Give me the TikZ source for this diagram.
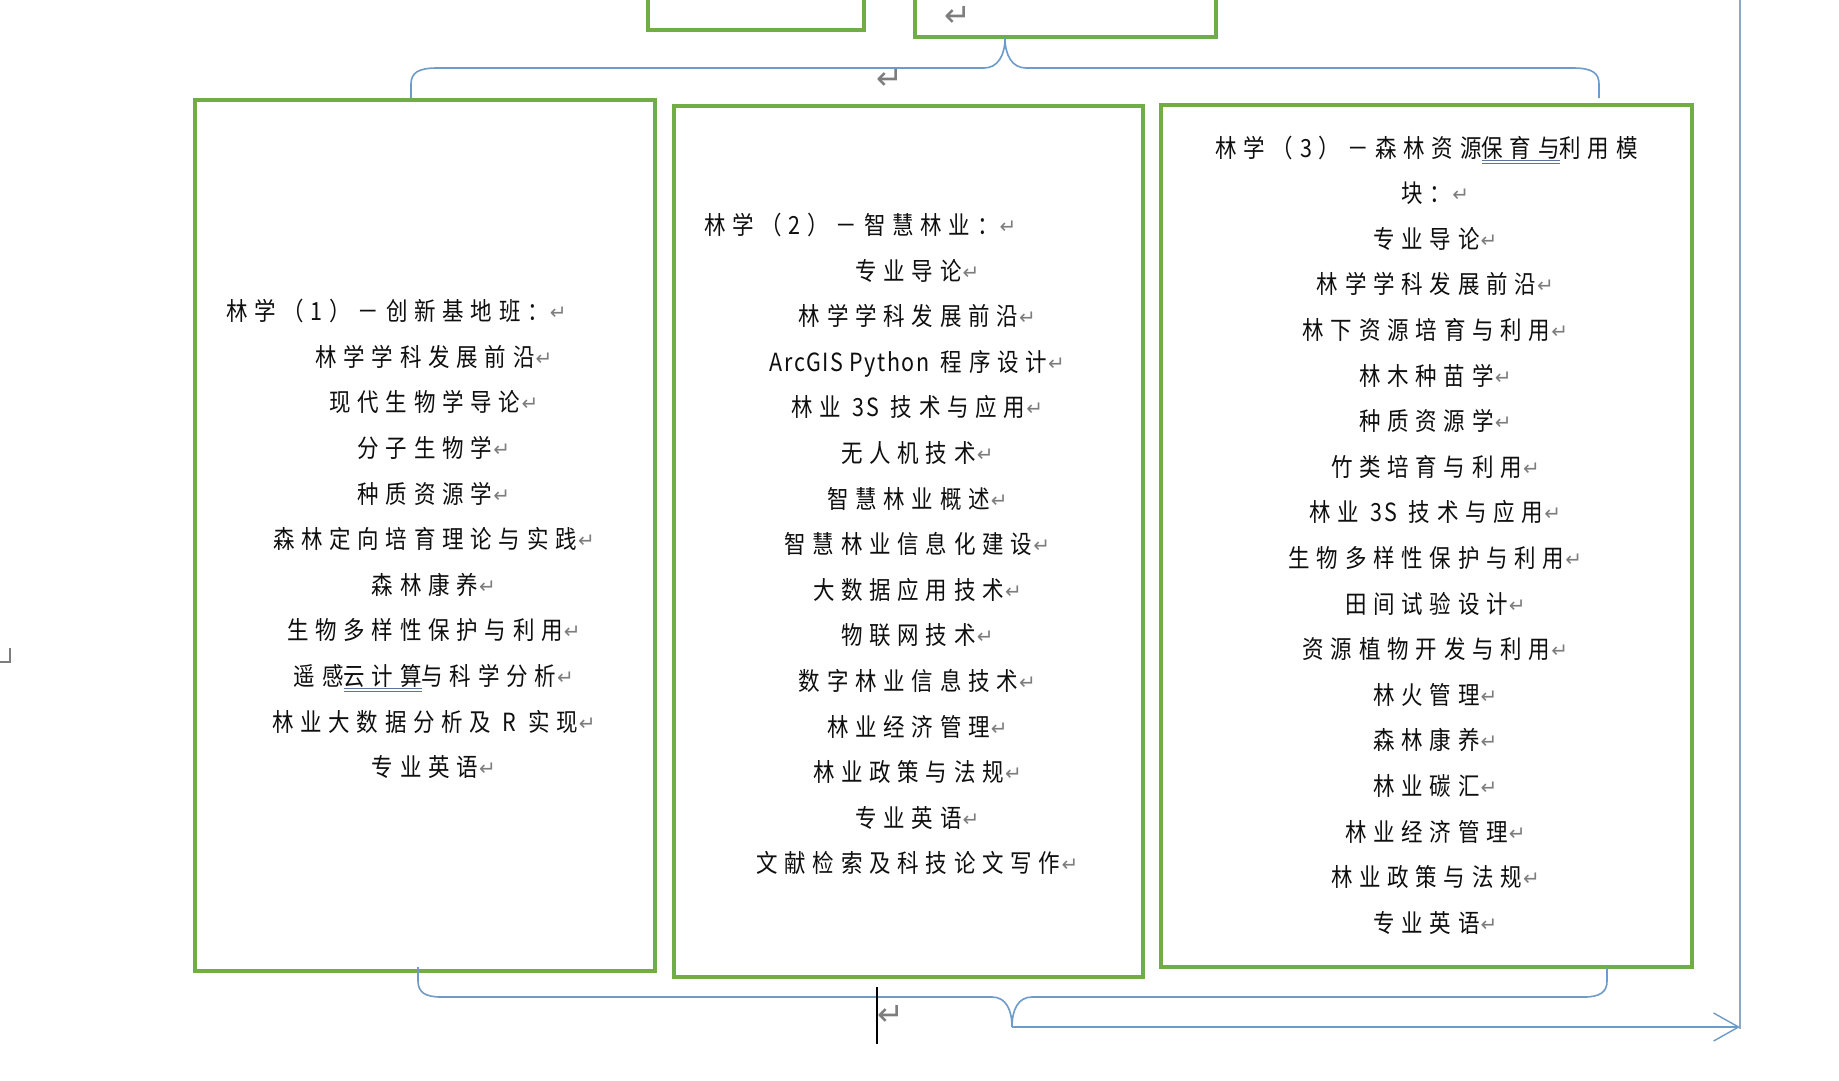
\documentclass[tikz,border=0pt]{standalone}
\usepackage{fontspec}
\newfontfamily\cjk{Noto Sans CJK SC}[FakeStretch=0.86,LetterSpace=27]
\newfontfamily\lat{Noto Sans CJK SC}[FakeStretch=0.86,LetterSpace=6]
\newfontfamily\sym{DejaVu Sans}
\usetikzlibrary{arrows.meta}
\definecolor{boxgreen}{RGB}{112,173,71}
\definecolor{braceblue}{RGB}{110,155,200}
\definecolor{lineblue}{RGB}{140,168,195}
\definecolor{markgray}{RGB}{125,125,125}
\definecolor{txt}{RGB}{15,15,15}
\definecolor{ulblue}{RGB}{95,115,155}
\newcommand\rt{\rlap{\hspace{1pt}\raisebox{1pt}{\sym\fontsize{20}{20}\selectfont\color{markgray}↵}}}
\newcommand\dul[1]{\setbox0\hbox{#1}\rlap{\color{ulblue}\rule[-3.5pt]{\wd0}{1pt}}\rlap{\color{ulblue}\rule[-7pt]{\wd0}{1pt}}\box0}
\tikzset{
  greenbox/.style={draw=boxgreen, line width=3.5pt, fill=none, inner sep=0pt},
  item/.style={anchor=base, font=\cjk\fontsize{25}{25}\selectfont, text=txt, inner sep=0pt},
  titleL/.style={item, anchor=base west},
  brace/.style={draw=braceblue, line width=1.6pt},
  bigmark/.style={font=\sym\fontsize{32}{32}\selectfont, text=markgray, inner sep=0pt},
}
\begin{document}
\begin{tikzpicture}[x=1pt,y=-1pt]
\useasboundingbox (0,0) rectangle (1839,1080);
\clip (0,0) rectangle (1839,1080);
\fill[white] (0,0) rectangle (1839,1080);
% top boxes
\node[greenbox, minimum width=216pt, minimum height=70pt] (tl) at (756,-5) {};
\node[greenbox, minimum width=301pt, minimum height=77pt] (tr) at (1065.5,-1.5) {};
\node[bigmark] (m1) at (958,16) {↵};
% three main boxes
\node[greenbox, minimum width=460pt, minimum height=871pt] (b1) at (425,535.5) {};
\node[greenbox, minimum width=469pt, minimum height=871pt] (b2) at (908.5,541.5) {};
\node[greenbox, minimum width=531pt, minimum height=862pt] (b3) at (1426.5,536) {};
% top brace
\draw[brace] (411,98) -- (411,84) .. controls (411,73) and (418,68) .. (437,68) -- (984,68)
  .. controls (998,68) and (1005,55) .. (1005,38) .. controls (1005,55) and (1012,68) .. (1026,68)
  -- (1573,68) .. controls (1592,68) and (1599,73) .. (1599,84) -- (1599,98);
\node[bigmark] (m2) at (890,79) {↵};
% bottom brace
\draw[brace] (418,967) -- (418,981) .. controls (418,992) and (425,997) .. (441,997) -- (992,997)
  .. controls (1006,997) and (1012,1010) .. (1012,1027) .. controls (1012,1010) and (1018,997) .. (1032,997)
  -- (1584,997) .. controls (1600,997) and (1607,992) .. (1607,981) -- (1607,967);
\coordinate (btip) at (1012,1027);
\coordinate (aend) at (1740,1027);
\coordinate (vtop) at (1740,-5);
\draw[draw=lineblue, line width=1.3pt] (vtop) -- (1740,1029);
\draw[brace, line width=1.4pt, -{Straight Barb[length=25pt,width=28pt,line width=1.4pt]}] (btip) -- (aend);
\draw[black, line width=1.3pt] (877,987) -- (877,1044);
\node[bigmark] (m3) at (891,1015) {↵};
\draw[markgray, line width=1.5pt] (0,662) -- (10,662) -- (10,648);
% box 1 text
\node[titleL] (t1) at (226,320.6) {林学（1）－创新基地班：\rt};
\foreach \t [count=\k] in {林学学科发展前沿,现代生物学导论,分子生物学,种质资源学,森林定向培育理论与实践,森林康养,生物多样性保护与利用,遥感\dul{云计算}与科学分析,林业大数据分析及 {\lat R} 实现,专业英语}
  \node[item] (a\k) at (425,{320.6+\k*45.6}) {\t\rt};
% box 2 text
\node[titleL] (t2) at (704,234.5) {林学（2）－智慧林业：\rt};
\foreach \t [count=\k] in {专业导论,林学学科发展前沿,{\lat ArcGIS Python} 程序设计,林业 {\lat 3S} 技术与应用,无人机技术,智慧林业概述,智慧林业信息化建设,大数据应用技术,物联网技术,数字林业信息技术,林业经济管理,林业政策与法规,专业英语,文献检索及科技论文写作}
  \node[item] (c\k) at (908.5,{234.5+\k*45.6}) {\t\rt};
% box 3 text
\node[item] (t3) at (1426.5,157) {林学（3）－森林资源\dul{保育与}利用模};
\node[item] (t3b) at (1426.5,202.6) {块：\rt};
\foreach \t [count=\k] in {专业导论,林学学科发展前沿,林下资源培育与利用,林木种苗学,种质资源学,竹类培育与利用,林业 {\lat 3S} 技术与应用,生物多样性保护与利用,田间试验设计,资源植物开发与利用,林火管理,森林康养,林业碳汇,林业经济管理,林业政策与法规,专业英语}
  \node[item] (e\k) at (1426.5,{202.6+\k*45.6}) {\t\rt};
\end{tikzpicture}
\end{document}
